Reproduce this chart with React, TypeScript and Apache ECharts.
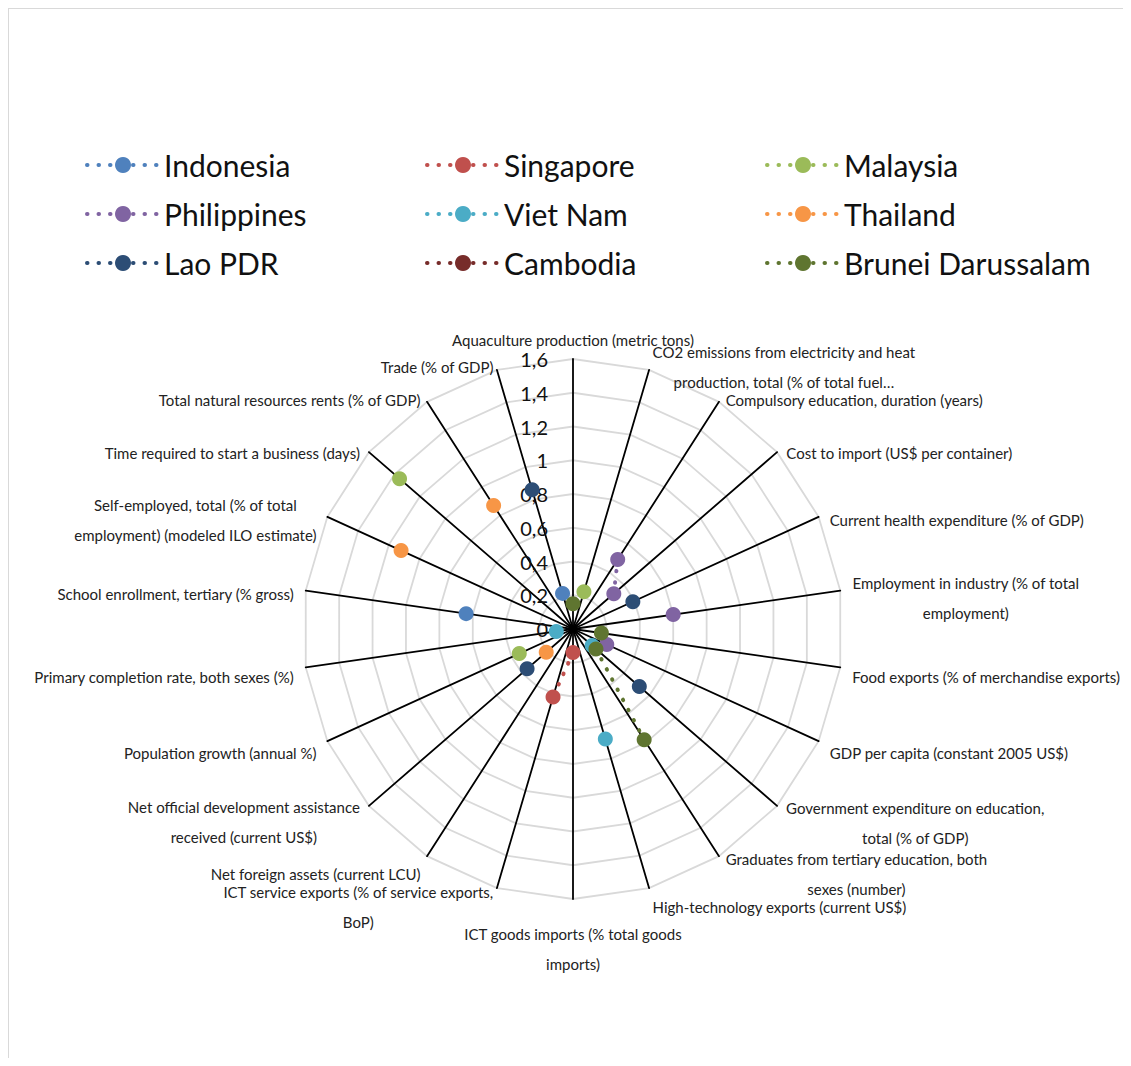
import React, { useEffect, useRef } from 'react';
import * as echarts from 'echarts';

const indicators: string[] = [
  'Aquaculture production (metric tons)',
  'CO2 emissions from electricity and heat\nproduction, total (% of total fuel…',
  'Compulsory education, duration (years)',
  'Cost to import (US$ per container)',
  'Current health expenditure (% of GDP)',
  'Employment in industry (% of total\nemployment)',
  'Food exports (% of merchandise exports)',
  'GDP per capita (constant 2005 US$)',
  'Government expenditure on education,\ntotal (% of GDP)',
  'Graduates from tertiary education, both\nsexes (number)',
  'High-technology exports (current US$)',
  'ICT goods imports (% total goods\nimports)',
  'ICT service exports (% of service exports,\nBoP)',
  'Net foreign assets (current LCU)',
  'Net official development assistance\nreceived (current US$)',
  'Population growth (annual %)',
  'Primary completion rate, both sexes (%)',
  'School enrollment, tertiary (% gross)',
  'Self-employed, total (% of total\nemployment) (modeled ILO estimate)',
  'Time required to start a business (days)',
  'Total natural resources rents (% of GDP)',
  'Trade (% of GDP)',
];

const countries: string[] = [
  'Indonesia', 'Singapore', 'Malaysia',
  'Philippines', 'Viet Nam', 'Thailand',
  'Lao PDR', 'Cambodia', 'Brunei Darussalam',
];

const colors: string[] = [
  '#4F81BD', '#C0504D', '#9BBB59',
  '#8064A2', '#4BACC6', '#F79646',
  '#2C4D75', '#772C2A', '#5F7530',
];

const N = null;
//                 0     1     2     3     4     5     6     7     8     9     10    11    12    13    14    15    16    17    18    19    20    21
const indonesia = [N,    N,    N,    N,    N,    N,    N,    N,    N,    N,    N,    N,    N,    N,    N,    N,    N,    0.64, N,    N,    N,    0.22];
const singapore = [N,    N,    N,    N,    N,    N,    N,    N,    N,    N,    N,    0.14, 0.42, N,    N,    N,    N,    N,    N,    N,    N,    N];
const malaysia =  [N,    0.23, N,    N,    N,    N,    N,    N,    N,    N,    N,    N,    N,    N,    N,    0.35, N,    N,    N,    1.36, N,    N];
const philippines=[N,    N,    0.49, 0.32, N,    0.60, N,    0.22, N,    N,    N,    N,    N,    N,    N,    N,    N,    N,    N,    N,    N,    N];
const vietNam =   [N,    N,    N,    N,    N,    N,    N,    N,    0.15, N,    0.68, N,    N,    N,    N,    N,    0.10, N,    N,    N,    N,    N];
const thailand =  [N,    N,    N,    N,    N,    N,    N,    N,    N,    N,    N,    N,    N,    N,    0.21, N,    N,    N,    1.12, N,    0.87, N];
const laoPDR =    [N,    N,    N,    N,    0.39, N,    N,    N,    0.52, N,    N,    N,    N,    N,    0.36, N,    N,    N,    N,    N,    N,    0.86];
const cambodia =  [N,    N,    N,    N,    N,    N,    N,    N,    N,    N,    N,    N,    N,    N,    N,    N,    N,    N,    N,    N,    N,    N];
const brunei =    [0.15, N,    N,    N,    N,    N,    0.17, N,    0.18, 0.78, N,    N,    N,    N,    N,    N,    N,    N,    N,    N,    N,    N];

const seriesValues = [indonesia, singapore, malaysia, philippines, vietNam, thailand, laoPDR, cambodia, brunei];

const radiusMin = 0;
const radiusMax = 1.6;
const radiusStep = 0.2;

// layout only: vertical nudge (px) of each category label, mimicking the spreadsheet placement
const labelShift = [-7, 8.5, 8, 8.5, 8.5, 9, 8, 7, 9, 7.5, 7.5, 38, 7.5, 8, 8, 7, 8, 5, 8.5, 8.5, 8, 8.5];

const FONT = 'Lato, "Open Sans", sans-serif';

export default function App() {
  const ref = useRef<HTMLDivElement>(null);

  useEffect(() => {
    if (!ref.current) return;
    const chart = echarts.init(ref.current, undefined, { renderer: 'svg' });

    const cx = 564;
    const cy = 620;
    const R = 270;
    const gap = 12;
    const n = indicators.length;

    // radar indicators run counter-clockwise, so reverse to get a clockwise layout
    const order = [0];
    for (let i = n - 1; i >= 1; i--) order.push(i);

    // category labels placed at the end of each spoke
    const labels = indicators.map((name, k) => {
      const theta = (k * 2 * Math.PI) / n;
      const s = Math.sin(theta);
      const c = Math.cos(theta);
      const align = Math.abs(s) < 1e-6 ? 'center' : s > 0 ? 'left' : 'right';
      return {
        type: 'text',
        x: cx + (R + gap) * s,
        y: cy - (R + gap) * c + labelShift[k],
        silent: true,
        z: 10,
        style: {
          text: name
            .split('\n')
            .map((l) => `{c|${l}}`)
            .join('\n'),
          align,
          verticalAlign: 'middle',
          font: `15px ${FONT}`,
          fill: '#222',
          lineHeight: 30,
          rich: {
            c: {
              align: 'center',
              lineHeight: 30,
              font: `15px ${FONT}`,
              fill: '#222',
            },
          },
        },
      };
    });

    const legendBase = {
      orient: 'vertical' as const,
      top: 141,
      padding: 0,
      itemWidth: 72,
      itemHeight: 20,
      itemGap: 19,
      itemTextGap: 7,
      textStyle: { fontSize: 30, fontFamily: FONT, color: '#111', lineHeight: 30 },
      lineStyle: { width: 4, type: [0.5, 11], cap: 'round' },
      selectedMode: false,
    };

    const option: any = {
      animation: false,
      textStyle: { fontFamily: FONT },
      legend: [
        { ...legendBase, left: 76, data: [countries[0], countries[3], countries[6]] },
        { ...legendBase, left: 416, data: [countries[1], countries[4], countries[7]] },
        { ...legendBase, left: 756, data: [countries[2], countries[5], countries[8]] },
      ],
      radar: {
        center: [cx, cy],
        radius: R,
        startAngle: 90,
        splitNumber: 8,
        shape: 'polygon',
        indicator: order.map((k) => ({ name: indicators[k], min: radiusMin, max: radiusMax })),
        axisName: { show: false },
        axisLine: { lineStyle: { color: '#000', width: 1.8 } },
        splitLine: { lineStyle: { color: '#d9d9d9', width: 1.8 } },
        splitArea: { show: false },
        axisTick: { show: false },
        axisLabel: { show: false },
      },
      polar: { center: [cx, cy], radius: R },
      angleAxis: {
        type: 'category',
        data: indicators.map((_, i) => String(i)),
        boundaryGap: false,
        startAngle: 90,
        clockwise: true,
        axisLine: { show: false },
        axisTick: { show: false },
        axisLabel: { show: false },
        splitLine: { show: false },
      },
      radiusAxis: {
        min: radiusMin,
        max: radiusMax,
        interval: radiusStep,
        axisLine: { show: false },
        axisTick: { show: false },
        splitLine: { show: false },
        axisLabel: {
          show: true,
          fontSize: 20,
          fontFamily: FONT,
          color: '#111',
          margin: 25,
          formatter: (v: number) => String(Math.round(v * 10) / 10).replace('.', ','),
        },
        z: 1,
      },
      graphic: labels,
      series: countries.map((name, i) => ({
        type: 'line',
        name,
        coordinateSystem: 'polar',
        data: seriesValues[i],
        symbol: 'circle',
        symbolSize: 15,
        showSymbol: true,
        showAllSymbol: true,
        connectNulls: false,
        itemStyle: { color: colors[i] },
        lineStyle: { color: colors[i], width: 4, type: [0.5, 11], cap: 'round' },
        emphasis: { disabled: true },
        z: 3,
      })),
    };

    chart.setOption(option);
    return () => chart.dispose();
  }, []);

  return (
    <div
      style={{
        width: 1123,
        height: 1050,
        boxSizing: 'border-box',
        borderTop: '1px solid #d9d9d9',
        borderLeft: '1px solid #d9d9d9',
        overflow: 'hidden',
      }}
    >
      <div ref={ref} style={{ width: 1122, height: 1049 }} />
    </div>
  );
}
